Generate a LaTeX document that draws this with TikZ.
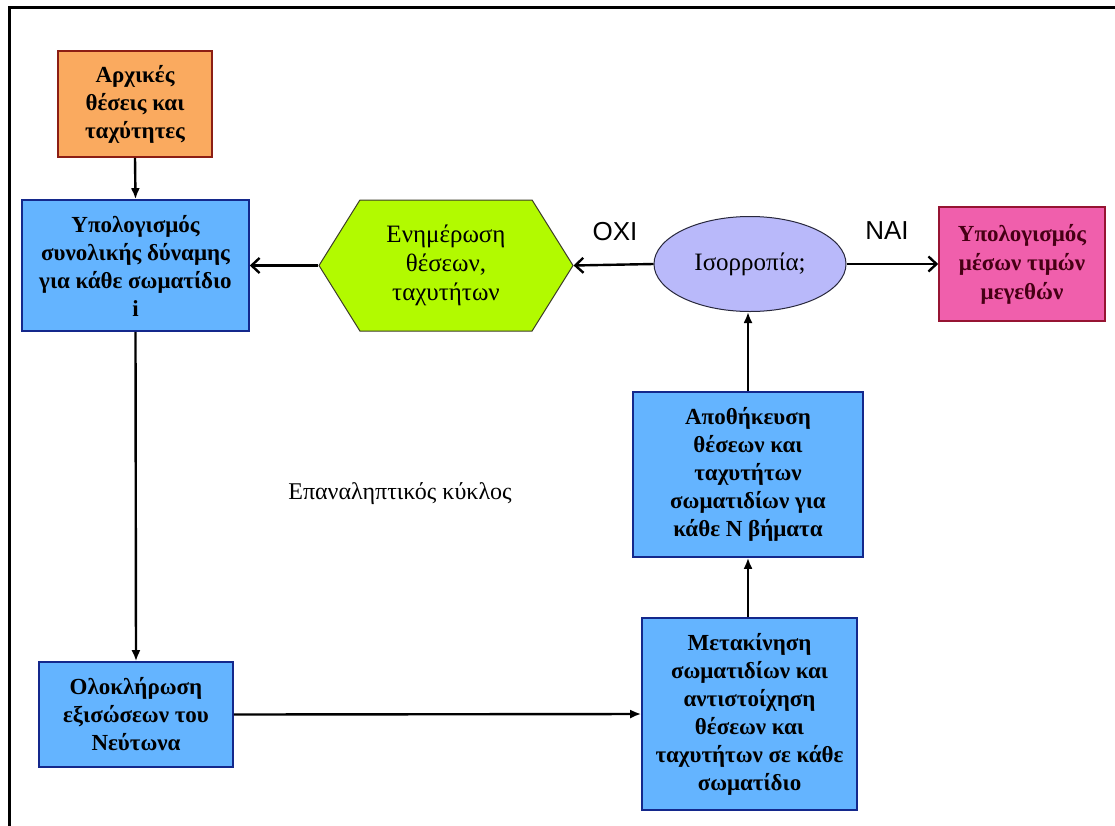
\documentclass[tikz,border=0pt]{standalone}
\usepackage{fontspec}
\setmainfont{Liberation Serif}
\newfontfamily\lsans{Liberation Sans}
\usetikzlibrary{shapes.geometric,shapes.symbols,arrows.meta}
\definecolor{orfill}{RGB}{250,170,95}
\definecolor{ordraw}{RGB}{140,30,20}
\definecolor{blfill}{RGB}{100,180,255}
\definecolor{bldraw}{RGB}{20,40,140}
\definecolor{hxfill}{RGB}{178,250,0}
\definecolor{hxdraw}{RGB}{60,60,40}
\definecolor{elfill}{RGB}{185,185,250}
\definecolor{eldraw}{RGB}{40,40,60}
\definecolor{pkfill}{RGB}{240,95,172}
\definecolor{pkdraw}{RGB}{150,20,50}
\definecolor{pktext}{RGB}{70,0,20}
\tikzset{
  boxtext/.style={align=center,font=\fontsize{23}{28}\selectfont\bfseries,inner sep=0pt},
  orbox/.style={boxtext,draw=ordraw,fill=orfill,line width=1.6pt},
  blbox/.style={boxtext,draw=bldraw,fill=blfill,line width=1.6pt},
  pkbox/.style={boxtext,draw=pkdraw,fill=pkfill,line width=1.6pt,text=pktext,font=\fontsize{23}{29}\selectfont\bfseries},
  hexbox/.style={signal,signal to=east and west,signal pointer angle=116,draw=hxdraw,fill=hxfill,line width=1pt,align=center,font=\fontsize{25}{29}\selectfont,inner sep=0pt},
  decbox/.style={ellipse,draw=eldraw,fill=elfill,line width=1pt,font=\fontsize{25}{29}\selectfont,inner sep=0pt},
  filarrow/.style={line width=2.4pt,-{Latex[length=11pt,width=9pt]}},
  barbarrow/.style={line width=2.4pt,-{Straight Barb[length=8pt,width=15pt]}},
  yesno/.style={font=\lsans\fontsize{26}{30}\selectfont},
  plain/.style={font=\fontsize{24}{28}\selectfont}
}
\begin{document}
\begin{tikzpicture}[x=1pt,y=-1pt]
\useasboundingbox (0,0) rectangle (1115,825);
\clip (0,0) rectangle (1115,825);
\fill[white] (0,0) rectangle (1115,825);
\draw[line width=3pt] (1125,7) -- (9.5,7) -- (9.5,835);

\node[orbox,minimum width=154pt,minimum height=106pt] (init) at (135,104) {Αρχικές\\θέσεις και\\ταχύτητες};
\node[blbox,minimum width=227pt,minimum height=131pt] (force) at (135.5,265.5) {Υπολογισμός\\συνολικής δύναμης\\για κάθε σωματίδιο\\i};
\node[hexbox,minimum width=254pt,minimum height=131pt] (update) at (446,265.5) {Ενημέρωση\\θέσεων,\\ταχυτήτων};
\node[decbox,minimum width=192pt,minimum height=95pt] (eq) at (750,264) {Ισορροπία;};
\node[pkbox,minimum width=166pt,minimum height=114pt] (mean) at (1022,264) {Υπολογισμός\\μέσων τιμών\\μεγεθών};
\node[blbox,minimum width=230pt,minimum height=165pt] (store) at (748,474.5) {Αποθήκευση\\θέσεων και\\ταχυτήτων\\σωματιδίων για\\κάθε Ν βήματα};
\node[blbox,minimum width=215pt,minimum height=192pt] (move) at (749.5,714) {Μετακίνηση\\σωματιδίων και\\αντιστοίχηση\\θέσεων και\\ταχυτήτων σε κάθε\\σωματίδιο};
\node[blbox,minimum width=194pt,minimum height=105pt] (newton) at (136,714.5) {Ολοκλήρωση\\εξισώσεων του\\Νεύτωνα};

\node[plain] (loop) at (400,494) {Επαναληπτικός κύκλος};
\node[yesno] (no) at (615,232) {ΟΧΙ};
\node[yesno] (yes) at (887,231) {ΝΑΙ};

\draw[filarrow] (init.south) -- (force.north);
\draw[filarrow] (force.south) -- (newton.north);
\draw[filarrow] (newton.east) -- (move.west);
\draw[filarrow] (move.north -| store.south) -- (store.south);
\draw[filarrow] (store.north) -- (store.north |- eq.south);
\draw[barbarrow] (eq.west) -- (update.east);
\draw[barbarrow] (update.west) -- (force.east);
\draw[barbarrow] (eq.east) -- (mean.west);
\end{tikzpicture}
\end{document}
